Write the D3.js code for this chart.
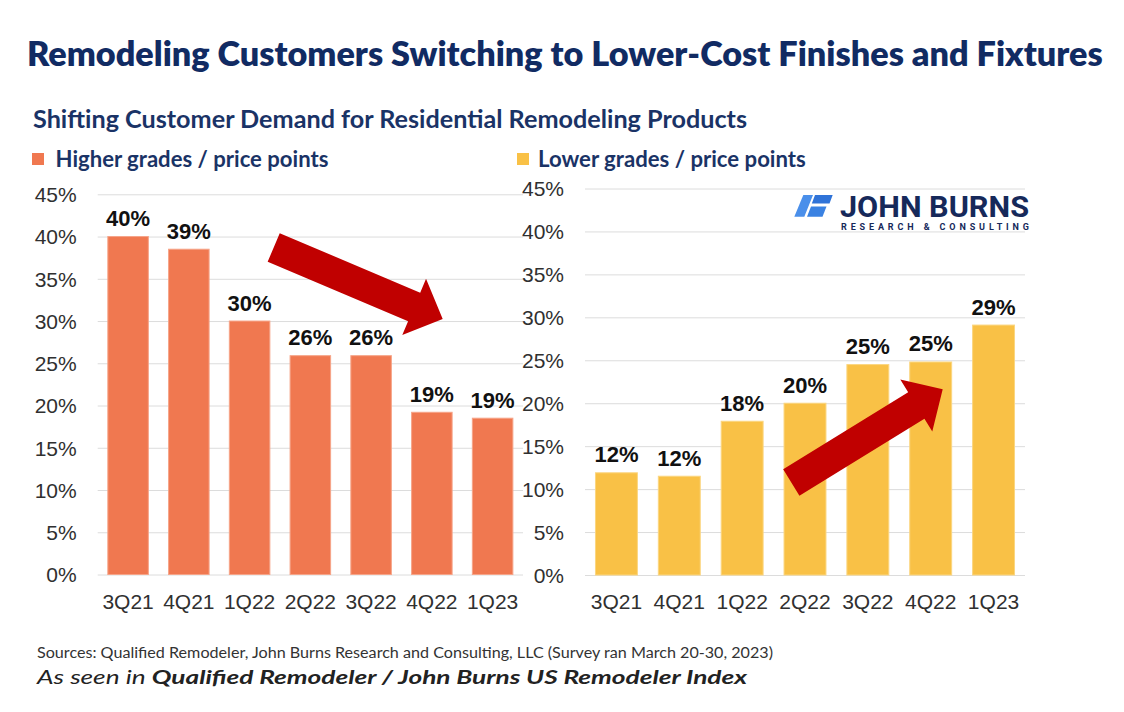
<!DOCTYPE html>
<html><head><meta charset="utf-8">
<script src="https://cdn.jsdelivr.net/npm/d3@7"></script>
<style>body{margin:0;background:#fff}</style>
</head><body><svg id="c" width="1124" height="712"></svg>
<script>
// ---- data ----
const categories = ["3Q21","4Q21","1Q22","2Q22","3Q22","4Q22","1Q23"];
const higherGrades = [40.0, 38.5, 30.0, 25.9, 25.9, 19.2, 18.5];
const lowerGrades  = [11.9, 11.5, 17.9, 20.0, 24.5, 24.8, 29.1];
const yTicks = [0, 5, 10, 15, 20, 25, 30, 35, 40, 45];
const seriesNames = ["Higher grades / price points", "Lower grades / price points"];
const titleText = "Remodeling Customers Switching to Lower-Cost Finishes and Fixtures";
const subtitleText = "Shifting Customer Demand for Residential Remodeling Products";
const sourceText = "Sources: Qualified Remodeler, John Burns Research and Consulting, LLC (Survey ran March 20-30, 2023)";

// ---- style ----
const NAVY = "#112B63", NAVY2 = "#1A3366";
const ORANGE = "#F07850", YELLOW = "#F9C146", RED = "#C00000";
const GRID = "#DCDCDC", AXIS_TXT = "#303030";
const AXFONT = "'Liberation Sans', Arial, sans-serif";
const HFONT = "Lato, 'Open Sans', sans-serif";

const svg = d3.select("#c");
svg.append("rect").attr("width",1124).attr("height",712).attr("fill","#fff");

function fit(sel, width){
  const len = sel.node().getComputedTextLength();
  const fs = parseFloat(sel.attr("font-size"));
  sel.attr("font-size", (fs*width/len).toFixed(2));
}

// title & subtitle
fit(svg.append("text").attr("x",27).attr("y",66).attr("font-family",HFONT).attr("font-weight",800)
  .attr("font-size",33).attr("fill",NAVY).text(titleText), 1076);
fit(svg.append("text").attr("x",33).attr("y",127.5).attr("font-family",HFONT).attr("font-weight",700)
  .attr("font-size",22).attr("fill",NAVY2).text(subtitleText), 714);

// panels
const panels = [
  {values: higherGrades, color: ORANGE, stroke:"#F6A488", x0: 97.7, x1: 523, y0: 574.5, y1: 194.3,
   legendX: 32, legendTextX: 55.5, legendW: 273, name: seriesNames[0]},
  {values: lowerGrades, color: YELLOW, stroke:"#FBD680", x0: 585, x1: 1025, y0: 575, y1: 188.5,
   legendX: 517, legendTextX: 538, legendW: 268, name: seriesNames[1]}
];

panels.forEach(p => {
  const x = d3.scaleBand().domain(categories).range([p.x0, p.x1]).paddingInner(0.333).paddingOuter(0.1667);
  const y = d3.scaleLinear().domain([0,45]).range([p.y0, p.y1]);
  const w = p.x1 - p.x0;

  const gy = svg.append("g").attr("transform", `translate(${p.x0},0)`)
    .call(d3.axisLeft(y).tickValues(yTicks).tickFormat(d => d + "%").tickSize(-w).tickPadding(21));
  gy.select(".domain").remove();
  gy.selectAll("line").attr("stroke", GRID).attr("stroke-width", 1);
  gy.selectAll("text").attr("font-family", AXFONT).attr("font-size", 21).attr("fill", AXIS_TXT).attr("dy","0.35em");

  const gx = svg.append("g").attr("transform", `translate(0,${p.y0})`)
    .call(d3.axisBottom(x).tickSize(0).tickPadding(19.5));
  gx.select(".domain").remove();
  gx.selectAll("text").attr("font-family", AXFONT).attr("font-size", 21).attr("fill", AXIS_TXT);

  svg.append("g").selectAll("rect").data(p.values).join("rect")
    .attr("x", (d,i) => x(categories[i]))
    .attr("y", d => y(d))
    .attr("width", x.bandwidth())
    .attr("height", d => y(0) - y(d))
    .attr("fill", p.color)
    .attr("stroke", p.stroke).attr("stroke-width", 1);

  svg.append("g").selectAll("text").data(p.values).join("text")
    .attr("x", (d,i) => x(categories[i]) + x.bandwidth()/2)
    .attr("y", d => y(d) - 10.5)
    .attr("text-anchor","middle")
    .attr("font-family", AXFONT).attr("font-weight", 700).attr("font-size", 22).attr("fill", "#111")
    .text(d => Math.round(d) + "%");

  // legend
  svg.append("rect").attr("x", p.legendX).attr("y", 153).attr("width", 12).attr("height", 12).attr("fill", p.color);
  fit(svg.append("text").attr("x", p.legendTextX).attr("y", 166.5).attr("font-family",HFONT).attr("font-weight",700)
    .attr("font-size",20).attr("fill",NAVY2).text(p.name), p.legendW);
});

// arrows (annotations)
const arrows = [
  {tail:[273.7,247.5], tip:[442.7,319]},
  {tail:[791.3,482.5], tip:[942.7,389.3]}
];
arrows.forEach(a => {
  const dx = a.tip[0]-a.tail[0], dy = a.tip[1]-a.tail[1];
  const L = Math.hypot(dx,dy), ux = dx/L, uy = dy/L, nx = -uy, ny = ux;
  const sw = 15.5, hw = 30.5, hl = 31;
  const P = (s,t) => [a.tail[0]+ux*s+nx*t, a.tail[1]+uy*s+ny*t];
  const pts = [P(0,-sw), P(L-hl,-sw), P(L-hl,-hw), P(L,0), P(L-hl,hw), P(L-hl,sw), P(0,sw)];
  svg.append("polygon").attr("points", pts.map(q=>q.join(",")).join(" ")).attr("fill", RED);
});

// logo
const logo = svg.append("g");
logo.append("rect").attr("x",790).attr("y",192).attr("width",242).attr("height",39).attr("fill","#fff");
logo.append("polygon").attr("points","803.3,195 813,195 804.3,216.7 794.3,216.7").attr("fill","#4A8FEA");
logo.append("polygon").attr("points","815,195 832.7,195 829.5,203.5 811.8,203.5").attr("fill","#2F73D8");
logo.append("polygon").attr("points","811,206.5 826.5,206.5 822.5,216.7 807,216.7").attr("fill","#3A82E2");
logo.append("text").attr("x",840).attr("y",216.7).attr("font-family","Roboto, sans-serif").attr("font-weight",700)
  .attr("font-size",30).attr("fill","#16295A").attr("textLength",189).attr("lengthAdjust","spacingAndGlyphs").text("JOHN BURNS");
logo.append("text").attr("x",841).attr("y",229.8).attr("font-family","Roboto, sans-serif").attr("font-weight",700)
  .attr("font-size",9).attr("fill","#16295A").attr("textLength",188).attr("lengthAdjust","spacing").text("RESEARCH & CONSULTING");

// footer
svg.append("text").attr("x",37).attr("y",658).attr("font-family",HFONT).attr("font-size",14.5)
  .attr("fill","#333").attr("textLength",736).attr("lengthAdjust","spacingAndGlyphs").text(sourceText);
const f2 = svg.append("text").attr("x",37).attr("y",684).attr("font-family",HFONT).attr("font-size",19.5)
  .attr("font-style","italic").attr("fill","#222").attr("textLength",710).attr("lengthAdjust","spacingAndGlyphs");
f2.append("tspan").text("As seen in ");
f2.append("tspan").attr("font-weight",700).text("Qualified Remodeler / John Burns US Remodeler Index");
</script></body></html>
